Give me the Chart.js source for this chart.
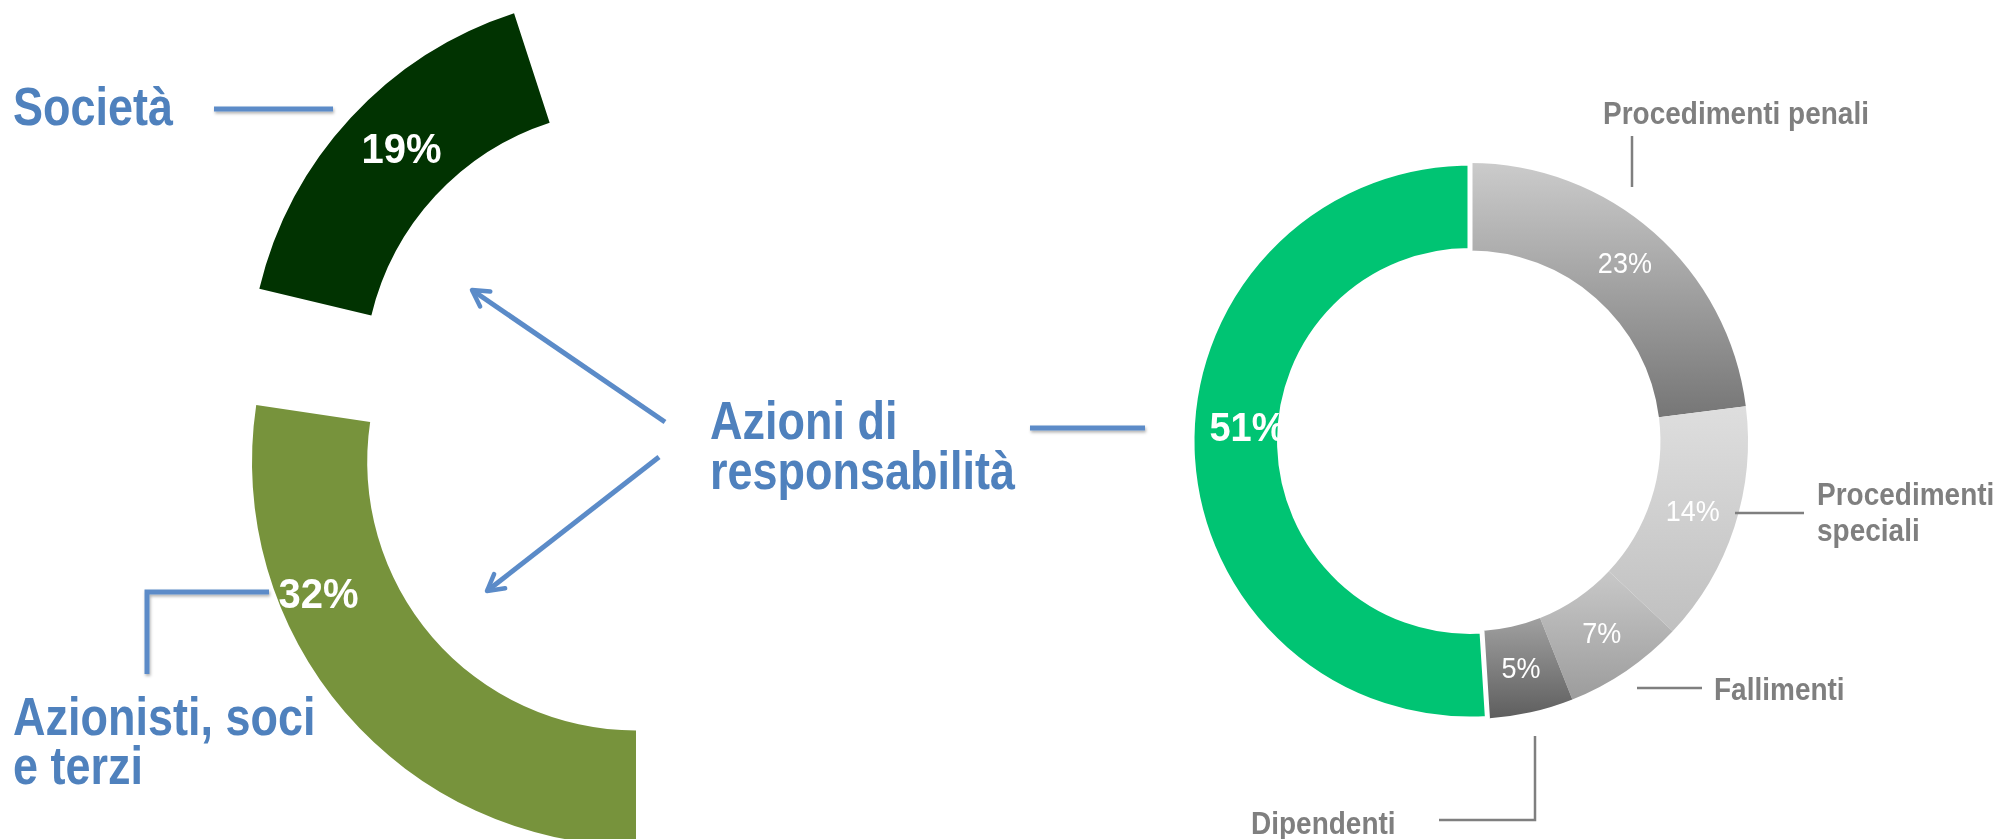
<!DOCTYPE html>
<html>
<head>
<meta charset="utf-8">
<script src="https://cdn.jsdelivr.net/npm/chart.js@4.4.1/dist/chart.umd.min.js"></script>
<style>
  html, body { margin: 0; padding: 0; background: #fff; }
  #page { position: relative; width: 2006px; height: 839px; overflow: hidden; }
  .box { position: absolute; }
  svg { position: absolute; left: 0; top: 0; }
  .blue { font: bold 45px "Liberation Sans", Arial, sans-serif; fill: #4f81bd; }
  .grey { font: bold 28px "Liberation Sans", Arial, sans-serif; fill: #7f7f7f; }
</style>
</head>
<body>
<div id="page">
  <div class="box" id="boxOlive"><canvas id="olive" width="900" height="900"></canvas></div>
  <div class="box" id="boxDark"><canvas id="dark" width="900" height="900"></canvas></div>
  <div class="box" id="boxRight" style="left:1170px;top:141px"><canvas id="right" width="600" height="600"></canvas></div>
  <svg width="2006" height="839">
    <defs>
      <marker id="head" viewBox="0 0 24 24" refX="21" refY="12" markerWidth="24" markerHeight="24" markerUnits="userSpaceOnUse" orient="auto">
        <path d="M5,3 L21,12 L5,21" fill="none" stroke="#5b8bc8" stroke-width="4.5" stroke-linecap="round" stroke-linejoin="round"/>
      </marker>
      <filter id="sh" x="-10%" y="-50%" width="120%" height="200%">
        <feDropShadow dx="1" dy="2" stdDeviation="1.5" flood-color="#000" flood-opacity="0.3"/>
      </filter>
    </defs>
    <g stroke="#5b8bc8" stroke-width="5" fill="none" filter="url(#sh)">
      <line x1="214" y1="109" x2="333" y2="109"/>
      <line x1="1030" y1="428" x2="1145" y2="428"/>
      <polyline points="147,674 147,592 269,592"/>
    </g>
    <g stroke="#5b8bc8" stroke-width="5" fill="none">
      <line x1="665" y1="422" x2="472" y2="290" marker-end="url(#head)"/>
      <line x1="659" y1="457" x2="487" y2="591" marker-end="url(#head)"/>
    </g>
    <g stroke="#7f7f7f" stroke-width="2.5" fill="none">
      <line x1="1632" y1="136" x2="1632" y2="187"/>
      <line x1="1735" y1="513" x2="1804" y2="513"/>
      <line x1="1637" y1="688" x2="1702" y2="688"/>
      <polyline points="1439,820 1535,820 1535,736"/>
    </g>
    <text class="blue" transform="translate(13,125) scale(1,1.18)">Società</text>
    <text class="blue" transform="translate(710,439) scale(1,1.18)">Azioni di</text>
    <text class="blue" transform="translate(710,489) scale(1,1.18)">responsabilità</text>
    <text class="blue" transform="translate(13,735) scale(1,1.18)">Azionisti, soci</text>
    <text class="blue" transform="translate(13,784) scale(1,1.18)">e terzi</text>
    <text class="grey" transform="translate(1603,124) scale(1,1.12)">Procedimenti penali</text>
    <text class="grey" transform="translate(1817,505) scale(1,1.12)">Procedimenti</text>
    <text class="grey" transform="translate(1817,541) scale(1,1.12)">speciali</text>
    <text class="grey" transform="translate(1714,700) scale(1,1.12)">Fallimenti</text>
    <text class="grey" transform="translate(1251,834) scale(1,1.12)">Dipendenti</text>
  </svg>
</div>
<script>
// left: split of "Azioni di responsabilità"
const leftLabels = ["Azionisti, soci e terzi", "Società"];
const leftValues = [32, 19];

// right: all proceedings
const rightLabels = ["Procedimenti penali", "Procedimenti speciali", "Fallimenti", "Dipendenti", "Azioni di responsabilità"];
const rightValues = [23, 14, 7, 5, 51];

const rightTop = ["#cbcbcb", "#dedede", "#c8c8c8", "#a0a0a0", "#00c473"];
const rightBottom = ["#767676", "#c0c0c0", "#9c9c9c", "#5e5e5e", "#00c473"];

const FONT = '"Liberation Sans", Arial, sans-serif';

// white % labels drawn on each arc
function arcLabels(cfg) {
  return {
    id: "arcLabels",
    afterDatasetsDraw(chart) {
      const ctx = chart.ctx;
      const values = chart.data.datasets[0].data;
      chart.getDatasetMeta(0).data.forEach((el, i) => {
        if (!cfg.show[i]) return;
        const a = el.startAngle + (el.endAngle - el.startAngle) * cfg.along[i];
        const r = el.innerRadius + (el.outerRadius - el.innerRadius) * cfg.across[i];
        ctx.save();
        ctx.translate(el.x + Math.cos(a) * r, el.y + Math.sin(a) * r);
        ctx.scale(1, cfg.stretch || 1);
        ctx.font = cfg.font[i];
        ctx.fillStyle = "#fff";
        ctx.textAlign = "center";
        ctx.textBaseline = "middle";
        ctx.fillText(values[i] + "%", 0, 0);
        ctx.restore();
      });
    }
  };
}

function leftChart(id, colors, rotation, show, along, across) {
  return new Chart(id, {
    type: "doughnut",
    data: {
      labels: leftLabels,
      datasets: [{ data: leftValues, backgroundColor: colors, borderWidth: 0 }]
    },
    options: {
      responsive: false,
      animation: false,
      devicePixelRatio: 1,
      rotation: rotation,
      circumference: 157,
      radius: 384,
      cutout: "70%",
      plugins: { legend: { display: false }, tooltip: { enabled: false } }
    },
    plugins: [arcLabels({ show: show, along: along, across: across, stretch: 1.08, font: ["bold 40px " + FONT, "bold 40px " + FONT] })]
  });
}

// move the box so the ring centre sits where it should
function place(chart, boxId, cx, cy) {
  const el = chart.getDatasetMeta(0).data[0];
  const box = document.getElementById(boxId);
  box.style.left = (cx - el.x) + "px";
  box.style.top = (cy - el.y) + "px";
}

const olive = leftChart("olive", ["#77933c", "rgba(0,0,0,0)"], 180, [true, false], [0.68, 0.5], [0.66, 0.5]);
const dark = leftChart("dark", ["rgba(0,0,0,0)", "#013301"], 185, [false, true], [0.5, 0.53], [0.5, 0.48]);
place(olive, "boxOlive", 636, 462);
place(dark, "boxDark", 633, 378);

function shade(c) {
  const i = c.dataIndex;
  if (i === undefined) return "#ccc";
  const el = c.chart.getDatasetMeta(0).data[i];
  if (!el || !el.outerRadius || rightTop[i] === rightBottom[i]) return rightTop[i];
  let y0 = Infinity, y1 = -Infinity;
  for (let k = 0; k <= 24; k++) {
    const a = el.startAngle + (el.endAngle - el.startAngle) * k / 24;
    [el.innerRadius, el.outerRadius].forEach(r => {
      const y = el.y + Math.sin(a) * r;
      y0 = Math.min(y0, y);
      y1 = Math.max(y1, y);
    });
  }
  const g = c.chart.ctx.createLinearGradient(0, y0, 0, y1);
  g.addColorStop(0, rightTop[i]);
  g.addColorStop(1, rightBottom[i]);
  return g;
}

const right = new Chart("right", {
  type: "doughnut",
  data: {
    labels: rightLabels,
    datasets: [{
      data: rightValues,
      backgroundColor: shade,
      borderColor: "#fff",
      borderWidth: [0, 0, 0, 0, 5]
    }]
  },
  options: {
    responsive: false,
    animation: false,
    devicePixelRatio: 1,
    radius: 278,
    cutout: "68.5%",
    plugins: { legend: { display: false }, tooltip: { enabled: false } }
  },
  plugins: [arcLabels({
    show: [true, true, true, true, true],
    along: [0.5, 0.5, 0.5, 0.5, 0.526],
    across: [0.5, 0.5, 0.5, 0.5, 0.37],
    stretch: 1.08,
    font: ["27px " + FONT, "27px " + FONT, "27px " + FONT, "27px " + FONT, "bold 38px " + FONT]
  })]
});
right.update();
</script>
</body>
</html>
